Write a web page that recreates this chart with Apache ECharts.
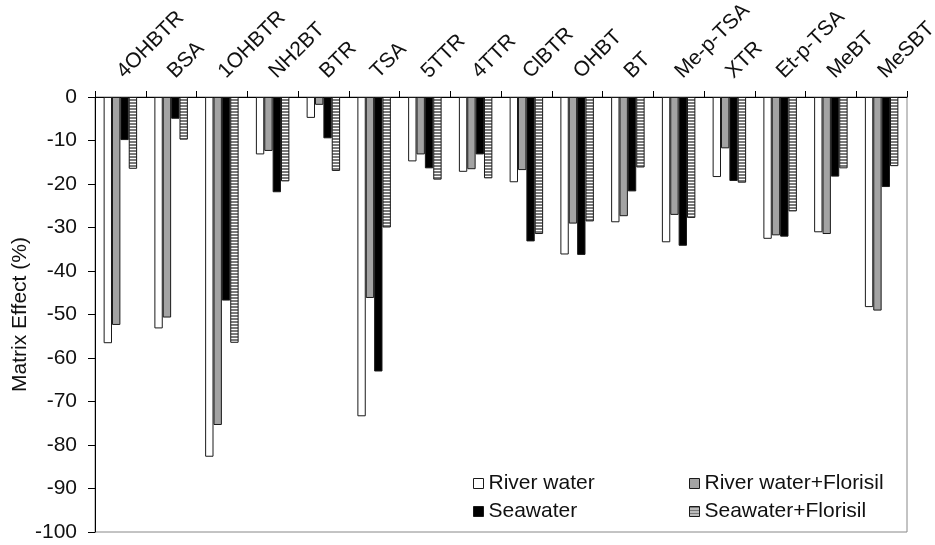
<!DOCTYPE html>
<html><head><meta charset="utf-8">
<script src="https://cdn.jsdelivr.net/npm/echarts@6/dist/echarts.min.js"></script>
<style>html,body{margin:0;padding:0;background:#fff}#c{width:935px;height:545px}</style>
</head><body><div id="c"></div>
<script>
const categories = ['4OHBTR','BSA','1OHBTR','NH2BT','BTR','TSA','5TTR','4TTR','ClBTR','OHBT','BT','Me-p-TSA','XTR','Et-p-TSA','MeBT','MeSBT'];
const riverWater = [-56.6,-53.2,-82.7,-13.2,-4.8,-73.4,-14.8,-17.2,-19.6,-36.2,-28.8,-33.4,-18.4,-32.6,-31.1,-48.3];
const riverWaterFlorisil = [-52.4,-50.7,-75.4,-12.4,-1.8,-46.2,-13.2,-16.6,-16.8,-29.1,-27.4,-27.1,-11.8,-31.8,-31.5,-49.1];
const seawater = [-9.9,-5.0,-46.8,-21.9,-9.5,-63.1,-16.4,-13.2,-33.2,-36.3,-21.7,-34.2,-19.3,-32.1,-18.3,-20.7];
const seawaterFlorisil = [-16.5,-9.8,-56.5,-19.4,-17.0,-30.0,-19.0,-18.7,-31.5,-28.6,-16.2,-27.8,-19.7,-26.3,-16.4,-15.9];
const yTicks = [0,-10,-20,-30,-40,-50,-60,-70,-80,-90,-100];

const cv = document.createElement('canvas');
cv.width = 4; cv.height = 3;
const cx = cv.getContext('2d');
cx.fillStyle = '#7a7a7a'; cx.fillRect(0,0,4,2);
cx.fillStyle = '#ffffff'; cx.fillRect(0,2,4,1);
const stripe = {image: cv, repeat: 'repeat'};

const font = 'Liberation Sans, Arial, sans-serif';
const chart = echarts.init(document.getElementById('c'), null, {renderer:'canvas'});
function mk(name, data, color){
  return {name, type:'bar', data, barGap:'0%', barCategoryGap:'34%',
    itemStyle:{color, borderColor:'#1a1a1a', borderWidth:1}, animation:false};
}
const legendText = {fontSize:21, color:'#111', fontFamily:font};
chart.setOption({
  animation:false,
  textStyle:{fontFamily:font},
  grid:{left:95, right:28, top:97, bottom:13, show:true, borderColor:'#888', borderWidth:1,
    containLabel:false, outerBoundsMode:'none'},
  xAxis:{type:'category', data:categories, position:'top',
    axisLine:{lineStyle:{color:'#000', width:1}},
    axisTick:{show:true, alignWithLabel:false, length:6, lineStyle:{color:'#000'}},
    axisLabel:{rotate:45, fontSize:21, color:'#111', fontFamily:font, margin:22, interval:0, hideOverlap:false}},
  yAxis:{type:'value', min:-100, max:0, interval:10,
    name:'Matrix Effect (%)', nameLocation:'middle', nameRotate:90, nameGap:64, nameMoveOverlap:false,
    nameTextStyle:{fontSize:21, color:'#111', fontFamily:font},
    axisLine:{show:true, lineStyle:{color:'#000'}},
    axisTick:{show:true, length:7, lineStyle:{color:'#000'}},
    splitLine:{show:false},
    axisLabel:{fontSize:21, color:'#111', fontFamily:font, margin:18,
      formatter:v=> yTicks.indexOf(v)>=0 ? String(v) : ''}},
  legend:[
    {data:['River water','Seawater'], orient:'vertical', left:473, top:473, padding:0, itemWidth:10, itemHeight:10, itemGap:7,
      textStyle:legendText, icon:'rect', itemStyle:{borderColor:'#1a1a1a', borderWidth:1}},
    {data:['River water+Florisil','Seawater+Florisil'], orient:'vertical', left:689, top:473, padding:0, itemWidth:10, itemHeight:10, itemGap:7,
      textStyle:legendText, icon:'rect', itemStyle:{borderColor:'#1a1a1a', borderWidth:1}}
  ],
  series:[
    mk('River water', riverWater, '#ffffff'),
    mk('River water+Florisil', riverWaterFlorisil, '#a3a3a3'),
    mk('Seawater', seawater, '#000000'),
    mk('Seawater+Florisil', seawaterFlorisil, stripe)
  ]
});
</script></body></html>
